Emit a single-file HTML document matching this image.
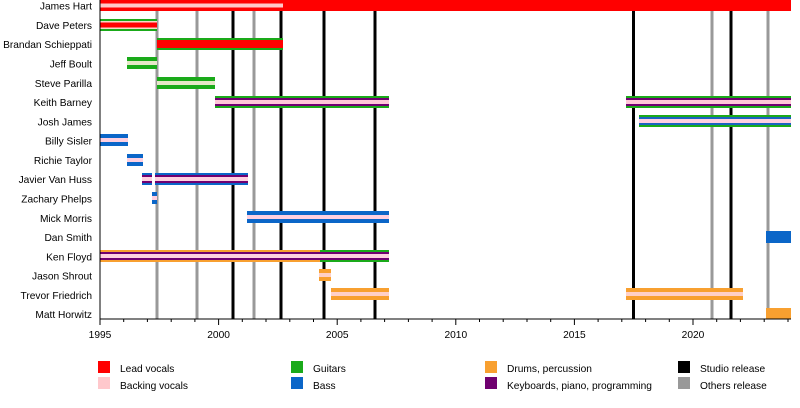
<!DOCTYPE html>
<html><head><meta charset="utf-8"><style>
body{margin:0;background:#fff;}
svg{display:block;font-family:"Liberation Sans",sans-serif;}
</style></head><body>
<svg width="800" height="408" viewBox="0 0 800 408" xmlns="http://www.w3.org/2000/svg">
<g>
<rect x="155.5" y="0" width="3" height="319" fill="#999"/>
<rect x="195.5" y="0" width="3" height="319" fill="#999"/>
<rect x="252.5" y="0" width="3" height="319" fill="#999"/>
<rect x="710.5" y="0" width="3" height="319" fill="#999"/>
<rect x="766.5" y="0" width="3" height="319" fill="#999"/>
<rect x="231.5" y="0" width="3" height="319" fill="#000"/>
<rect x="279.5" y="0" width="3" height="319" fill="#000"/>
<rect x="322.5" y="0" width="3" height="319" fill="#000"/>
<rect x="373.5" y="0" width="3" height="319" fill="#000"/>
<rect x="632" y="0" width="3" height="319" fill="#000"/>
<rect x="729.5" y="0" width="3" height="319" fill="#000"/>
</g>
<g>
<rect x="100" y="0" width="691" height="11" fill="#f00"/>
<rect x="100" y="3.5" width="183" height="4" fill="#ffc8c8"/>
<rect x="100" y="19" width="57" height="12" fill="#1aaa1a"/>
<rect x="100" y="21" width="57" height="8" fill="#f8d8c8"/>
<rect x="100" y="22.5" width="57" height="5" fill="#f00"/>
<rect x="157" y="38" width="126" height="12" fill="#1aaa1a"/>
<rect x="157" y="40" width="126" height="8" fill="#f00"/>
<rect x="127" y="57" width="30" height="12" fill="#1aaa1a"/>
<rect x="127" y="61" width="30" height="4" fill="#e6e8c8"/>
<rect x="157" y="77" width="58" height="12" fill="#1aaa1a"/>
<rect x="157" y="81" width="58" height="4" fill="#e6e8c8"/>
<rect x="215" y="96" width="174" height="12" fill="#1aaa1a"/>
<rect x="215" y="98" width="174" height="8" fill="#700070"/>
<rect x="215" y="100" width="174" height="4" fill="#ffc8d8"/>
<rect x="626" y="96" width="165" height="12" fill="#1aaa1a"/>
<rect x="626" y="98" width="165" height="8" fill="#700070"/>
<rect x="626" y="100" width="165" height="4" fill="#ffc8d8"/>
<rect x="639" y="115" width="152" height="12" fill="#1aaa1a"/>
<rect x="639" y="117" width="152" height="8" fill="#1a64c0"/>
<rect x="639" y="119" width="152" height="4" fill="#ffd0e0"/>
<rect x="100" y="134" width="28" height="12" fill="#0b66c8"/>
<rect x="100" y="138" width="28" height="4" fill="#ffd0e0"/>
<rect x="127" y="154" width="16" height="12" fill="#0b66c8"/>
<rect x="127" y="158" width="16" height="4" fill="#ffd0e0"/>
<rect x="142" y="173" width="10" height="12" fill="#0b66c8"/>
<rect x="142" y="175" width="10" height="8" fill="#700070"/>
<rect x="142" y="177" width="10" height="4" fill="#ffd0e0"/>
<rect x="155" y="173" width="93" height="12" fill="#0b66c8"/>
<rect x="155" y="175" width="93" height="8" fill="#700070"/>
<rect x="155" y="177" width="93" height="4" fill="#ffd0e0"/>
<rect x="152" y="192" width="5" height="12" fill="#0b66c8"/>
<rect x="152" y="196" width="5" height="4" fill="#ffd0e0"/>
<rect x="247" y="211" width="142" height="12" fill="#0b66c8"/>
<rect x="247" y="215" width="142" height="4" fill="#ffd0e0"/>
<rect x="766" y="231" width="25" height="12" fill="#0b66c8"/>
<rect x="100" y="250" width="220" height="12" fill="#f8a030"/>
<rect x="320" y="250" width="69" height="12" fill="#1aaa1a"/>
<rect x="100" y="252" width="289" height="8" fill="#700070"/>
<rect x="100" y="254" width="289" height="4" fill="#ffd0e0"/>
<rect x="319" y="269" width="12" height="12" fill="#f8a030"/>
<rect x="319" y="273" width="12" height="4" fill="#ffd0c8"/>
<rect x="331" y="288" width="58" height="12" fill="#f8a030"/>
<rect x="331" y="292" width="58" height="4" fill="#ffd0c8"/>
<rect x="626" y="288" width="117" height="12" fill="#f8a030"/>
<rect x="626" y="292" width="117" height="4" fill="#ffd0c8"/>
<rect x="766" y="308" width="25" height="11" fill="#f8a030"/>
</g>
<line x1="100" y1="0" x2="100" y2="319" stroke="#000" stroke-width="1"/>
<line x1="100" y1="319" x2="791" y2="319" stroke="#000" stroke-width="1"/>
<g stroke="#000" stroke-width="1">
<line x1="100" y1="319" x2="100" y2="325"/><line x1="218.6" y1="319" x2="218.6" y2="325"/><line x1="337.2" y1="319" x2="337.2" y2="325"/><line x1="455.8" y1="319" x2="455.8" y2="325"/><line x1="574.4" y1="319" x2="574.4" y2="325"/><line x1="693" y1="319" x2="693" y2="325"/>
<line x1="123.7" y1="319" x2="123.7" y2="322"/><line x1="147.4" y1="319" x2="147.4" y2="322"/><line x1="171.2" y1="319" x2="171.2" y2="322"/><line x1="194.9" y1="319" x2="194.9" y2="322"/>
<line x1="242.3" y1="319" x2="242.3" y2="322"/><line x1="266" y1="319" x2="266" y2="322"/><line x1="289.8" y1="319" x2="289.8" y2="322"/><line x1="313.5" y1="319" x2="313.5" y2="322"/>
<line x1="360.9" y1="319" x2="360.9" y2="322"/><line x1="384.6" y1="319" x2="384.6" y2="322"/><line x1="408.4" y1="319" x2="408.4" y2="322"/><line x1="432.1" y1="319" x2="432.1" y2="322"/>
<line x1="479.5" y1="319" x2="479.5" y2="322"/><line x1="503.2" y1="319" x2="503.2" y2="322"/><line x1="527" y1="319" x2="527" y2="322"/><line x1="550.7" y1="319" x2="550.7" y2="322"/>
<line x1="598.1" y1="319" x2="598.1" y2="322"/><line x1="621.8" y1="319" x2="621.8" y2="322"/><line x1="645.6" y1="319" x2="645.6" y2="322"/><line x1="669.3" y1="319" x2="669.3" y2="322"/>
<line x1="716.7" y1="319" x2="716.7" y2="322"/><line x1="740.4" y1="319" x2="740.4" y2="322"/><line x1="764.2" y1="319" x2="764.2" y2="322"/><line x1="788" y1="319" x2="788" y2="322"/>
</g>
<g font-size="10.2" text-anchor="middle" fill="#000">
<text x="100" y="338">1995</text><text x="218.6" y="338">2000</text><text x="337.2" y="338">2005</text><text x="455.8" y="338">2010</text><text x="574.4" y="338">2015</text><text x="693" y="338">2020</text>
</g>
<g font-size="10.2" text-anchor="end" fill="#000">
<text x="92" y="9.5">James Hart</text>
<text x="92" y="29">Dave Peters</text>
<text x="92" y="48">Brandan Schieppati</text>
<text x="92" y="67.5">Jeff Boult</text>
<text x="92" y="87">Steve Parilla</text>
<text x="92" y="106">Keith Barney</text>
<text x="92" y="125.5">Josh James</text>
<text x="92" y="144.5">Billy Sisler</text>
<text x="92" y="164">Richie Taylor</text>
<text x="92" y="183">Javier Van Huss</text>
<text x="92" y="202.5">Zachary Phelps</text>
<text x="92" y="222">Mick Morris</text>
<text x="92" y="241">Dan Smith</text>
<text x="92" y="260.5">Ken Floyd</text>
<text x="92" y="279.5">Jason Shrout</text>
<text x="92" y="299">Trevor Friedrich</text>
<text x="92" y="318">Matt Horwitz</text>
</g>
<g font-size="10.2" fill="#000">
<rect x="98" y="361" width="12" height="12" fill="#f00"/><text x="120" y="372">Lead vocals</text>
<rect x="98" y="377" width="12" height="12" fill="#ffc8cc"/><text x="120" y="389">Backing vocals</text>
<rect x="291" y="361" width="12" height="12" fill="#1aaa1a"/><text x="313" y="372">Guitars</text>
<rect x="291" y="377" width="12" height="12" fill="#0b66c8"/><text x="313" y="389">Bass</text>
<rect x="485" y="361" width="12" height="12" fill="#f8a030"/><text x="507" y="372">Drums, percussion</text>
<rect x="485" y="377" width="12" height="12" fill="#700070"/><text x="507" y="389">Keyboards, piano, programming</text>
<rect x="678" y="361" width="12" height="12" fill="#000"/><text x="700" y="372">Studio release</text>
<rect x="678" y="377" width="12" height="12" fill="#999"/><text x="700" y="389">Others release</text>
</g>
</svg>
</body></html>
